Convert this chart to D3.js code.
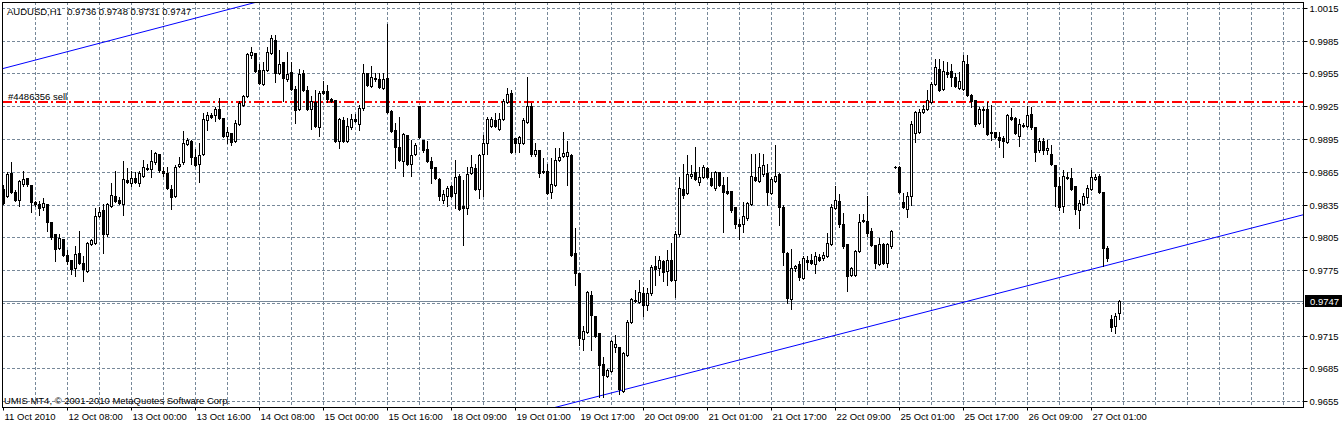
<!DOCTYPE html>
<html>
<head>
<meta charset="utf-8">
<script src="https://cdn.jsdelivr.net/npm/d3@7"></script>
<style>
  body { margin: 0; background: #fff; }
  text { font-family: Tahoma, "Liberation Sans", Arial, sans-serif; font-size: 9.5px; fill: #000; white-space: pre; }
</style>
</head>
<body>
<div id="chart"></div>
<script>
/* globals d3 */

const symbol = "AUDUSD,H1";

// hourly bars (bar 0 = left edge)
const opens = [
  0.9850,0.9843,0.9864,0.9847,0.9840,0.9854,0.9860,0.9853,0.9838,0.9836,
  0.9833,0.9836,0.9819,0.9808,0.9796,0.9804,0.9789,0.9785,0.9777,0.9791,
  0.9782,0.9775,0.9799,0.9800,0.9825,0.9830,0.9808,0.9834,0.9843,0.9840,
  0.9836,0.9858,0.9855,0.9860,0.9855,0.9862,0.9869,0.9868,0.9874,0.9882,
  0.9866,0.9864,0.9850,0.9843,0.9871,0.9874,0.9891,0.9894,0.9879,0.9873,
  0.9882,0.9913,0.9917,0.9917,0.9923,0.9915,0.9898,0.9901,0.9894,0.9909,
  0.9927,0.9935,0.9972,0.9974,0.9959,0.9946,0.9959,0.9974,0.9986,0.9956,
  0.9966,0.9950,0.9957,0.9941,0.9923,0.9956,0.9940,0.9923,0.9929,0.9906,
  0.9939,0.9939,0.9932,0.9931,0.9894,0.9913,0.9894,0.9906,0.9914,0.9909,
  0.9924,0.9956,0.9944,0.9951,0.9950,0.9942,0.9951,0.9921,0.9904,0.9888,
  0.9875,0.9899,0.9873,0.9882,0.9926,0.9895,0.9886,0.9875,0.9870,0.9859,
  0.9840,0.9843,0.9852,0.9846,0.9862,0.9834,0.9832,0.9864,0.9869,0.9850,
  0.9882,0.9892,0.9907,0.9913,0.9905,0.9914,0.9929,0.9938,0.9896,0.9892,
  0.9892,0.9911,0.9926,0.9882,0.9885,0.9866,0.9866,0.9847,0.9853,0.9876,
  0.9880,0.9880,0.9881,0.9791,0.9773,0.9712,0.9719,0.9753,0.9733,0.9718,
  0.9689,0.9678,0.9683,0.9705,0.9705,0.9665,0.9698,0.9728,0.9747,0.9746,
  0.9754,0.9743,0.9754,0.9779,0.9777,0.9784,0.9775,0.9785,0.9766,0.9808,
  0.9850,0.9846,0.9862,0.9865,0.9856,0.9861,0.9869,0.9860,0.9851,0.9865,
  0.9853,0.9848,0.9848,0.9833,0.9818,0.9818,0.9823,0.9836,0.9861,0.9857,
  0.9863,0.9864,0.9846,0.9857,0.9863,0.9833,0.9791,0.9749,0.9777,0.9781,
  0.9768,0.9785,0.9785,0.9781,0.9787,0.9786,0.9788,0.9799,0.9832,0.9839,
  0.9818,0.9799,0.9771,0.9771,0.9793,0.9821,0.9820,0.9811,0.9798,0.9781,
  0.9799,0.9782,0.9797,0.9870,0.9870,0.9838,0.9831,0.9843,0.9901,0.9902,
  0.9920,0.9923,0.9929,0.9946,0.9960,0.9941,0.9957,0.9958,0.9952,0.9942,
  0.9941,0.9964,0.9936,0.9931,0.9910,0.9923,0.9923,0.9902,0.9902,0.9897,
  0.9896,0.9893,0.9916,0.9915,0.9898,0.9908,0.9907,0.9918,0.9906,0.9885,
  0.9894,0.9885,0.9882,0.9872,0.9852,0.9834,0.9861,0.9860,0.9852,0.9830,
  0.9836,0.9842,0.9850,0.9859,0.9862,0.9847,0.9796,0.9731,0.9724,0.9736
];
const highs = [
  0.9853,0.9865,0.9874,0.9849,0.9858,0.9866,0.9860,0.9853,0.9839,0.9839,
  0.9841,0.9836,0.9819,0.9808,0.9808,0.9804,0.9794,0.9785,0.9797,0.9811,
  0.9788,0.9801,0.9804,0.9832,0.9833,0.9836,0.9837,0.9855,0.9866,0.9842,
  0.9875,0.9869,0.9866,0.9865,0.9866,0.9876,0.9873,0.9885,0.9884,0.9882,
  0.9870,0.9870,0.9853,0.9872,0.9879,0.9903,0.9896,0.9895,0.9886,0.9892,
  0.9919,0.9920,0.9919,0.9925,0.9933,0.9915,0.9906,0.9901,0.9913,0.9930,
  0.9936,0.9974,0.9980,0.9974,0.9964,0.9966,0.9980,0.9991,0.9991,0.9977,
  0.9966,0.9975,0.9966,0.9944,0.9960,0.9959,0.9944,0.9935,0.9940,0.9939,
  0.9949,0.9945,0.9933,0.9931,0.9915,0.9916,0.9915,0.9918,0.9918,0.9927,
  0.9964,0.9956,0.9962,0.9956,0.9956,0.9956,1.0001,0.9922,0.9910,0.9916,
  0.9901,0.9899,0.9895,0.9892,0.9926,0.9895,0.9894,0.9879,0.9870,0.9860,
  0.9849,0.9852,0.9853,0.9876,0.9863,0.9858,0.9870,0.9881,0.9873,0.9882,
  0.9899,0.9916,0.9916,0.9919,0.9919,0.9932,0.9942,0.9940,0.9896,0.9898,
  0.9915,0.9952,0.9928,0.9892,0.9885,0.9878,0.9873,0.9878,0.9887,0.9887,
  0.9902,0.9894,0.9882,0.9814,0.9773,0.9724,0.9756,0.9756,0.9733,0.9718,
  0.9696,0.9685,0.9711,0.9716,0.9705,0.9700,0.9730,0.9750,0.9757,0.9766,
  0.9760,0.9759,0.9780,0.9788,0.9788,0.9785,0.9794,0.9800,0.9811,0.9861,
  0.9873,0.9881,0.9872,0.9888,0.9870,0.9872,0.9870,0.9865,0.9866,0.9865,
  0.9861,0.9861,0.9848,0.9833,0.9822,0.9838,0.9838,0.9882,0.9882,0.9883,
  0.9882,0.9873,0.9861,0.9890,0.9864,0.9835,0.9792,0.9795,0.9780,0.9784,
  0.9788,0.9788,0.9790,0.9792,0.9790,0.9792,0.9809,0.9836,0.9852,0.9845,
  0.9828,0.9799,0.9778,0.9794,0.9827,0.9827,0.9843,0.9814,0.9798,0.9805,
  0.9800,0.9800,0.9812,0.9871,0.9871,0.9846,0.9847,0.9912,0.9921,0.9923,
  0.9927,0.9940,0.9948,0.9969,0.9969,0.9967,0.9966,0.9964,0.9956,0.9957,
  0.9972,0.9972,0.9937,0.9931,0.9925,0.9925,0.9929,0.9927,0.9902,0.9902,
  0.9898,0.9918,0.9924,0.9916,0.9914,0.9910,0.9926,0.9925,0.9906,0.9896,
  0.9896,0.9895,0.9890,0.9872,0.9861,0.9867,0.9865,0.9869,0.9852,0.9840,
  0.9846,0.9853,0.9867,0.9863,0.9863,0.9847,0.9797,0.9734,0.9736,0.9748
];
const lows = [
  0.9836,0.9842,0.9846,0.9839,0.9834,0.9852,0.9852,0.9829,0.9834,0.9826,
  0.9830,0.9811,0.9804,0.9784,0.9795,0.9788,0.9781,0.9772,0.9770,0.9781,
  0.9765,0.9774,0.9798,0.9799,0.9824,0.9791,0.9807,0.9833,0.9838,0.9836,
  0.9826,0.9855,0.9852,0.9855,0.9852,0.9861,0.9867,0.9861,0.9873,0.9865,
  0.9862,0.9850,0.9831,0.9842,0.9870,0.9873,0.9890,0.9873,0.9871,0.9856,
  0.9881,0.9904,0.9915,0.9912,0.9914,0.9897,0.9892,0.9890,0.9893,0.9908,
  0.9926,0.9934,0.9970,0.9957,0.9946,0.9945,0.9958,0.9973,0.9948,0.9955,
  0.9930,0.9949,0.9940,0.9910,0.9922,0.9939,0.9922,0.9905,0.9906,0.9898,
  0.9937,0.9929,0.9929,0.9893,0.9887,0.9893,0.9893,0.9905,0.9911,0.9904,
  0.9922,0.9944,0.9943,0.9949,0.9942,0.9941,0.9919,0.9902,0.9869,0.9875,
  0.9862,0.9872,0.9862,0.9881,0.9896,0.9884,0.9874,0.9855,0.9859,0.9840,
  0.9837,0.9834,0.9842,0.9832,0.9830,0.9798,0.9827,0.9863,0.9849,0.9841,
  0.9843,0.9882,0.9906,0.9906,0.9904,0.9913,0.9928,0.9883,0.9884,0.9884,
  0.9891,0.9910,0.9880,0.9880,0.9861,0.9864,0.9845,0.9841,0.9852,0.9875,
  0.9879,0.9853,0.9788,0.9762,0.9707,0.9702,0.9718,0.9702,0.9714,0.9659,
  0.9659,0.9677,0.9682,0.9700,0.9662,0.9664,0.9697,0.9727,0.9746,0.9745,
  0.9733,0.9739,0.9753,0.9762,0.9771,0.9765,0.9762,0.9765,0.9751,0.9807,
  0.9841,0.9845,0.9860,0.9858,0.9853,0.9860,0.9860,0.9852,0.9849,0.9852,
  0.9810,0.9845,0.9829,0.9814,0.9804,0.9810,0.9821,0.9835,0.9857,0.9856,
  0.9862,0.9835,0.9845,0.9856,0.9817,0.9780,0.9745,0.9740,0.9775,0.9766,
  0.9767,0.9776,0.9781,0.9773,0.9784,0.9785,0.9787,0.9798,0.9831,0.9815,
  0.9796,0.9756,0.9770,0.9770,0.9792,0.9819,0.9807,0.9797,0.9777,0.9780,
  0.9781,0.9778,0.9796,0.9869,0.9846,0.9832,0.9824,0.9835,0.9893,0.9901,
  0.9919,0.9922,0.9928,0.9945,0.9939,0.9940,0.9952,0.9944,0.9943,0.9941,
  0.9940,0.9935,0.9925,0.9907,0.9909,0.9906,0.9899,0.9895,0.9896,0.9888,
  0.9879,0.9892,0.9913,0.9900,0.9889,0.9906,0.9906,0.9905,0.9875,0.9884,
  0.9882,0.9882,0.9872,0.9834,0.9830,0.9829,0.9859,0.9849,0.9827,0.9814,
  0.9835,0.9837,0.9849,0.9858,0.9846,0.9779,0.9784,0.9720,0.9718,0.9731
];
const closes = [
  0.9837,0.9863,0.9847,0.9840,0.9857,0.9859,0.9854,0.9838,0.9836,0.9832,
  0.9837,0.9819,0.9806,0.9795,0.9805,0.9789,0.9784,0.9776,0.9790,0.9782,
  0.9776,0.9800,0.9803,0.9825,0.9829,0.9808,0.9836,0.9844,0.9839,0.9837,
  0.9859,0.9856,0.9860,0.9856,0.9864,0.9870,0.9868,0.9875,0.9883,0.9867,
  0.9864,0.9851,0.9842,0.9870,0.9873,0.9892,0.9895,0.9879,0.9872,0.9881,
  0.9914,0.9917,0.9916,0.9923,0.9915,0.9898,0.9902,0.9893,0.9910,0.9928,
  0.9935,0.9973,0.9975,0.9958,0.9947,0.9959,0.9975,0.9988,0.9956,0.9964,
  0.9951,0.9955,0.9941,0.9922,0.9955,0.9940,0.9923,0.9930,0.9907,0.9938,
  0.9938,0.9932,0.9930,0.9894,0.9914,0.9894,0.9907,0.9914,0.9912,0.9924,
  0.9956,0.9945,0.9952,0.9950,0.9943,0.9950,0.9920,0.9903,0.9888,0.9876,
  0.9900,0.9873,0.9881,0.9890,0.9897,0.9885,0.9875,0.9869,0.9860,0.9843,
  0.9845,0.9851,0.9843,0.9861,0.9831,0.9832,0.9863,0.9870,0.9850,0.9881,
  0.9892,0.9914,0.9914,0.9907,0.9914,0.9930,0.9937,0.9884,0.9892,0.9897,
  0.9913,0.9926,0.9882,0.9885,0.9864,0.9865,0.9846,0.9854,0.9876,0.9879,
  0.9883,0.9884,0.9789,0.9773,0.9713,0.9720,0.9755,0.9734,0.9715,0.9688,
  0.9679,0.9684,0.9710,0.9708,0.9666,0.9699,0.9728,0.9749,0.9748,0.9755,
  0.9743,0.9754,0.9778,0.9776,0.9785,0.9774,0.9785,0.9766,0.9808,0.9851,
  0.9844,0.9863,0.9863,0.9859,0.9861,0.9870,0.9861,0.9853,0.9865,0.9853,
  0.9847,0.9846,0.9830,0.9818,0.9816,0.9825,0.9837,0.9862,0.9858,0.9870,
  0.9872,0.9847,0.9859,0.9862,0.9833,0.9792,0.9750,0.9777,0.9779,0.9769,
  0.9786,0.9783,0.9782,0.9788,0.9785,0.9789,0.9800,0.9833,0.9840,0.9818,
  0.9797,0.9770,0.9777,0.9793,0.9819,0.9820,0.9809,0.9798,0.9782,0.9799,
  0.9782,0.9799,0.9811,0.9870,0.9847,0.9833,0.9843,0.9909,0.9920,0.9920,
  0.9923,0.9931,0.9946,0.9961,0.9940,0.9958,0.9955,0.9952,0.9944,0.9949,
  0.9967,0.9936,0.9930,0.9909,0.9923,0.9922,0.9900,0.9901,0.9897,0.9895,
  0.9894,0.9917,0.9914,0.9901,0.9909,0.9907,0.9917,0.9906,0.9884,0.9894,
  0.9885,0.9887,0.9873,0.9852,0.9833,0.9862,0.9860,0.9850,0.9831,0.9837,
  0.9843,0.9851,0.9861,0.9861,0.9847,0.9796,0.9786,0.9723,0.9733,0.9747
];

// time axis: one label every 16 bars
const timeLabels = [
  "11 Oct 2010", "12 Oct 08:00", "13 Oct 00:00", "13 Oct 16:00", "14 Oct 08:00",
  "15 Oct 00:00", "15 Oct 16:00", "18 Oct 09:00", "19 Oct 01:00", "19 Oct 17:00",
  "20 Oct 09:00", "21 Oct 01:00", "21 Oct 17:00", "22 Oct 09:00", "25 Oct 01:00",
  "25 Oct 17:00", "26 Oct 09:00", "27 Oct 01:00"
];
const priceTicks = [
  0.9655, 0.9685, 0.9715, 0.9775, 0.9805, 0.9835, 0.9865,
  0.9895, 0.9925, 0.9955, 0.9985, 1.0015
];
const gridPrices = [
  0.9655, 0.9685, 0.9715, 0.9745, 0.9775, 0.9805, 0.9835, 0.9865,
  0.9895, 0.9925, 0.9955, 0.9985, 1.0015
];

const orderPrice = 0.9929;
const orderLabel = "#4486356 sell";
// trend lines as [bar, price] anchors
const upperTrend = [[0, 0.9960], [62.5, 1.0020]];
const lowerTrend = [[148, 0.9659], [325, 0.9826]];

const width = 1342;
const height = 425;
const plot = {left: 2, top: 2, right: 1304, bottom: 407};
const totalSlots = 325;

const x = d3.scaleLinear().domain([0, totalSlots]).range([3, 1303]);
const y = d3.scaleLinear().domain([0.9655, 1.0015]).range([401.5, 8.5]);
const crisp = (v) => Math.floor(v) + 0.5;
const px = (v) => Math.round(v);

const bars = opens.map((o, i) => ({i, o, h: highs[i], l: lows[i], c: closes[i]}));
const last = bars[bars.length - 1];

const svg = d3.select("#chart").append("svg")
  .attr("width", width)
  .attr("height", height)
  .attr("viewBox", [0, 0, width, height])
  .style("display", "block")
  .style("background", "#fff");

svg.append("clipPath").attr("id", "plot-clip")
  .append("rect")
  .attr("x", plot.left + 1)
  .attr("y", plot.top + 1)
  .attr("width", plot.right - plot.left - 1)
  .attr("height", plot.bottom - plot.top - 1);

// grid
const grid = svg.append("g")
  .attr("stroke", "#778899")
  .attr("stroke-width", 1)
  .attr("stroke-dasharray", "3,2")
  .attr("clip-path", "url(#plot-clip)");

grid.selectAll(".hgrid")
  .data(gridPrices)
  .join("line")
  .attr("class", "hgrid")
  .attr("x1", plot.left)
  .attr("x2", plot.right)
  .attr("y1", (d) => crisp(y(d)))
  .attr("y2", (d) => crisp(y(d)));

grid.selectAll(".vgrid")
  .data(d3.range(8, totalSlots, 8))
  .join("line")
  .attr("class", "vgrid")
  .attr("x1", (d) => px(x(d)) + 0.5)
  .attr("x2", (d) => px(x(d)) + 0.5)
  .attr("y1", plot.top)
  .attr("y2", plot.bottom);

const objects = svg.append("g").attr("clip-path", "url(#plot-clip)");

// bid line
objects.append("line")
  .attr("x1", plot.left)
  .attr("x2", plot.right)
  .attr("y1", crisp(y(last.c)))
  .attr("y2", crisp(y(last.c)))
  .attr("stroke", "#778899");

// order level
objects.append("line")
  .attr("x1", plot.left)
  .attr("x2", plot.right)
  .attr("y1", px(y(orderPrice)))
  .attr("y2", px(y(orderPrice)))
  .attr("stroke", "#ff0000")
  .attr("stroke-width", 2)
  .attr("stroke-dasharray", "10,3,2,3");

// trend lines, extended across the plot
const extend = ([[b0, p0], [b1, p1]]) => {
  const slope = (p1 - p0) / (b1 - b0);
  const at = (b) => p0 + slope * (b - b0);
  return [[-2, at(-2)], [totalSlots + 2, at(totalSlots + 2)]];
};
objects.selectAll(".trend")
  .data([upperTrend, lowerTrend].map(extend))
  .join("line")
  .attr("class", "trend")
  .attr("x1", (d) => x(d[0][0]))
  .attr("y1", (d) => y(d[0][1]))
  .attr("x2", (d) => x(d[1][0]))
  .attr("y2", (d) => y(d[1][1]))
  .attr("stroke", "#0000ff")
  .attr("stroke-width", 1);

// candles
const candle = objects.append("g")
  .selectAll(".candle")
  .data(bars)
  .join("g")
  .attr("class", "candle");

candle.append("line")
  .attr("x1", (d) => px(x(d.i)) + 0.5)
  .attr("x2", (d) => px(x(d.i)) + 0.5)
  .attr("y1", (d) => px(y(d.h)))
  .attr("y2", (d) => px(y(d.l)) + 1)
  .attr("stroke", "#000");

const bodyTop = (d) => px(y(Math.max(d.o, d.c)));
const bodyBottom = (d) => px(y(Math.min(d.o, d.c)));

candle.filter((d) => d.c < d.o || bodyTop(d) === bodyBottom(d))
  .append("rect")
  .attr("x", (d) => px(x(d.i)) - 1)
  .attr("y", bodyTop)
  .attr("width", 3)
  .attr("height", (d) => Math.max(1, bodyBottom(d) - bodyTop(d) + 1))
  .attr("fill", "#000");

candle.filter((d) => d.c >= d.o && bodyTop(d) !== bodyBottom(d))
  .append("rect")
  .attr("x", (d) => px(x(d.i)) - 0.5)
  .attr("y", (d) => bodyTop(d) + 0.5)
  .attr("width", 2)
  .attr("height", (d) => bodyBottom(d) - bodyTop(d))
  .attr("fill", "#fff")
  .attr("stroke", "#000");

// frame
svg.append("rect")
  .attr("x", plot.left + 0.5)
  .attr("y", plot.top + 0.5)
  .attr("width", plot.right - plot.left - 1)
  .attr("height", plot.bottom - plot.top)
  .attr("fill", "none")
  .attr("stroke", "#000");

// price axis
const yAxis = svg.append("g")
  .attr("transform", `translate(${plot.right - 0.5},0)`)
  .call(d3.axisRight(y)
    .tickValues(priceTicks)
    .tickSize(4)
    .tickPadding(2)
    .tickFormat(d3.format(".4f")));
yAxis.select(".domain").remove();
yAxis.selectAll(".tick").attr("transform", (d) => `translate(0,${crisp(y(d))})`);
yAxis.selectAll(".tick line").attr("stroke", "#000");
yAxis.selectAll(".tick text")
  .attr("font-family", null)
  .attr("font-size", null)
  .attr("fill", "#000");

// bid price box
const bidY = crisp(y(last.c));
svg.append("rect")
  .attr("x", plot.right + 1)
  .attr("y", bidY - 6.5)
  .attr("width", width - plot.right - 1)
  .attr("height", 12)
  .attr("fill", "#000");
svg.append("text")
  .attr("x", plot.right + 6)
  .attr("y", bidY)
  .attr("dy", "0.35em")
  .style("fill", "#fff")
  .text(d3.format(".4f")(last.c));

// time axis
const labelBars = timeLabels.map((_, k) => k * 16);
const xAxis = svg.append("g")
  .attr("transform", `translate(0,${plot.bottom + 0.5})`)
  .call(d3.axisBottom(x)
    .tickValues(labelBars)
    .tickSize(3)
    .tickFormat((d, k) => timeLabels[k]));
xAxis.select(".domain").remove();
xAxis.selectAll(".tick").attr("transform", (d) => `translate(${px(x(d)) + 0.5},0)`);
xAxis.selectAll(".tick line").attr("stroke", "#000");
xAxis.selectAll(".tick text")
  .attr("font-family", null)
  .attr("font-size", null)
  .attr("text-anchor", "start")
  .attr("x", 1)
  .attr("y", 6)
  .attr("dy", "0.71em")
  .attr("fill", "#000");

// captions
svg.append("text")
  .attr("x", 7)
  .attr("y", 14.5)
  .text(`${symbol}  ${[last.o, last.h, last.l, last.c].map(d3.format(".4f")).join(" ")}`);

svg.append("text")
  .attr("x", 8)
  .attr("y", 100)
  .text(orderLabel);

svg.append("text")
  .attr("x", 4)
  .attr("y", 403.5)
  .text("UMIS MT4, \u00a9 2001-2010 MetaQuotes Software Corp.");
</script>
</body>
</html>
